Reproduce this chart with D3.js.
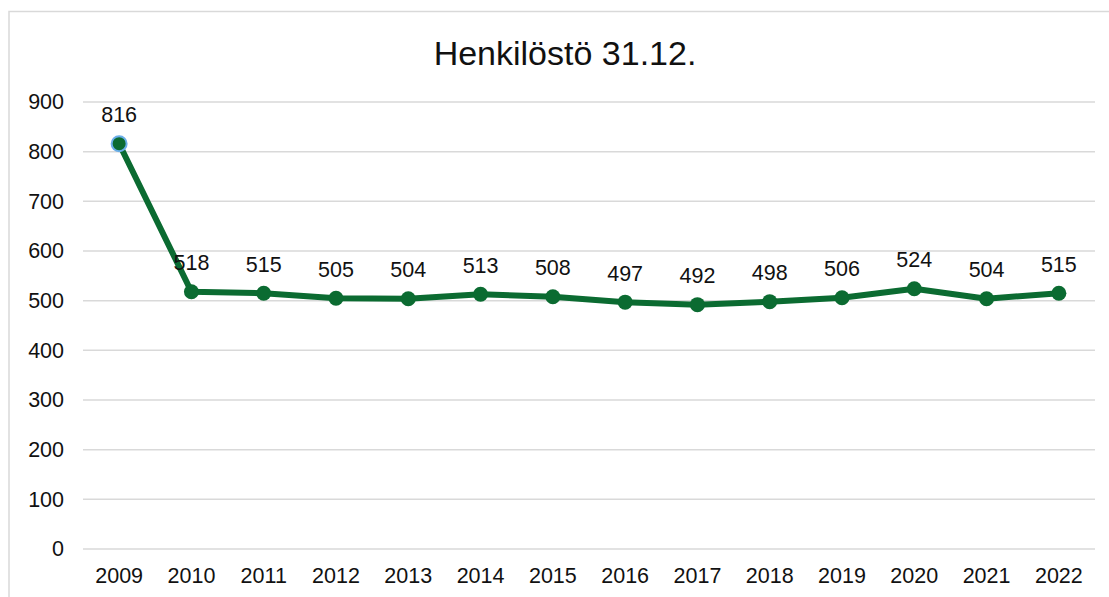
<!DOCTYPE html>
<html><head><meta charset="utf-8">
<script src="https://cdn.jsdelivr.net/npm/d3@7"></script>
<style>body{margin:0;background:#fff}svg{display:block}</style>
</head><body>
<svg id="c" width="1109" height="597"></svg>
<script>
const years = ["2009","2010","2011","2012","2013","2014","2015","2016","2017","2018","2019","2020","2021","2022"];
const values = [816,518,515,505,504,513,508,497,492,498,506,524,504,515];
const yTicks = [0,100,200,300,400,500,600,700,800,900];
const title = "Henkilöstö 31.12.";

const svg = d3.select("#c");
const font = "'Liberation Sans', Arial, sans-serif";
svg.append("rect").attr("x",9).attr("y",11.5).attr("width",1120).attr("height",620)
  .attr("fill","#fff").attr("stroke","#d9d9d9").attr("stroke-width",1.5);

const m = {l:83, r:1095, t:102, b:549};
const x = d3.scaleBand().domain(years).range([m.l,m.r]);
const y = d3.scaleLinear().domain([0,900]).range([m.b,m.t]);

svg.append("text").attr("x",565).attr("y",65).attr("text-anchor","middle")
  .attr("font-family",font).attr("font-size",34).attr("fill","#111").text(title);

const grid = svg.append("g");
grid.selectAll("line").data(yTicks).join("line")
  .attr("x1",m.l).attr("x2",m.r).attr("y1",d=>y(d)).attr("y2",d=>y(d))
  .attr("stroke","#d9d9d9").attr("stroke-width",1.5);

const yAxis = svg.append("g").attr("transform",`translate(${m.l},0)`)
  .call(d3.axisLeft(y).tickValues(yTicks).tickSize(0).tickPadding(19));
yAxis.select(".domain").remove();
yAxis.selectAll("text").attr("font-family",font).attr("font-size",21.5).attr("fill","#111");

const xAxis = svg.append("g").attr("transform",`translate(0,${m.b})`)
  .call(d3.axisBottom(x).tickSize(0).tickPadding(19));
xAxis.select(".domain").remove();
xAxis.selectAll("text").attr("font-family",font).attr("font-size",21.5).attr("fill","#111");

const cx = d => x(d) + x.bandwidth()/2;
const line = d3.line().x((d,i)=>cx(years[i])).y(d=>y(d));
svg.append("path").datum(values).attr("d",line).attr("fill","none")
  .attr("stroke","#0b6b31").attr("stroke-width",6).attr("stroke-linejoin","round");

svg.selectAll("circle.pt").data(values).join("circle").attr("class","pt")
  .attr("cx",(d,i)=>cx(years[i])).attr("cy",d=>y(d)).attr("r",7.5)
  .attr("fill","#0b6b31")
  .attr("stroke",(d,i)=>i===0?"#6aaee8":"none").attr("stroke-width",2);

svg.selectAll("text.lbl").data(values).join("text").attr("class","lbl")
  .attr("x",(d,i)=>cx(years[i])).attr("y",d=>y(d)-21.5).attr("text-anchor","middle")
  .attr("font-family",font).attr("font-size",21.5).attr("fill","#111").text(d=>d);
</script>
</body></html>
